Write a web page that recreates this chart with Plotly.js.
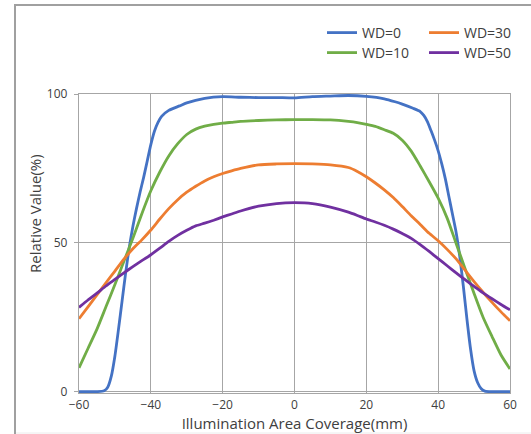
<!DOCTYPE html>
<html>
<head>
<meta charset="utf-8">
<script src="https://cdn.plot.ly/plotly-3.0.1.min.js"></script>
<style>html,body{margin:0;padding:0;background:#fff;}#chart{width:531px;height:434px;}</style>
</head>
<body>
<div id="chart"></div>
<script>
// Blue series (WD=0) has its own, denser x sampling at the steep edges
const xWD0 = [-60,-55,-53,-52,-51,-50,-49,-48,-47,-46,-45,-44,-43,-42,-41,-40,-39,-38,-37,-35,-32,-30,-25,-20,-15,-10,-5,0,5,10,15,20,25,28,30,33,35,36,37,38,39,40,41,42,43,44,45,46,47,48,49,50,51,52,53,55,60];
const yWD0 = [0,0,0.3,1.5,5.2,12,21,30.5,40,48.5,55.5,61.5,67,72,77.5,83,87.5,90.5,92.5,94.5,96,97,98.5,99.1,98.9,98.8,98.8,98.7,99.1,99.3,99.5,99.2,98.4,97.4,96.6,95.2,94.1,92.8,90.7,87.7,84.5,80.9,76.5,71.5,65.5,59.5,53.5,45.5,35.5,24.5,14.5,7,3,1,0.2,0,0];

const xCommon = [-60,-57.5,-55,-52.5,-50,-47.5,-45,-42.5,-40,-37.5,-35,-32.5,-30,-27.5,-25,-22.5,-20,-17.5,-15,-10,-5,0,5,10,15,17.5,20,22.5,25,27.5,30,32.5,35,37.5,40,42.5,45,47.5,50,52.5,55,57.5,60];
const yWD10 = [8,14.5,21,28.5,36,43.8,51.5,59.8,67.5,73.8,79.2,83.3,86.4,88.2,89.2,89.8,90.2,90.5,90.8,91.1,91.3,91.4,91.4,91.3,90.8,90.4,89.8,89.1,88,86.8,84.5,80.8,75.8,70.5,65,58.3,49.8,41.3,33,25,18.5,12.3,7.6];
const yWD30 = [24.5,28.5,32.5,36.6,40.5,44.5,48,51,54.3,58,61.5,64.5,67,69,70.8,72.2,73.3,74.2,75,76.2,76.5,76.6,76.5,76.2,75.3,74,72.2,70.1,67.8,65.2,62.2,59.1,56.2,53.2,50.7,47.8,44.6,40.8,37,33.4,30,26.8,23.8];
const yWD50 = [28.3,30.8,33.1,35.5,37.7,39.9,42,44,46,48.2,50.5,52.5,54.2,55.7,56.6,57.6,58.7,59.7,60.7,62.3,63.2,63.5,63.2,62,60.3,59.2,58,57,55.9,54.6,53.1,51.5,49.4,47.1,44.7,42.3,39.9,37.6,35.4,33.2,31.2,29.3,27.5];

const seriesNames = ['WD=0','WD=10','WD=30','WD=50'];
const seriesColors = ['#4472C4','#70AD47','#ED7D31','#7030A0'];
const xTickVals = [-60,-40,-20,0,20,40,60];
const yTickVals = [0,50,100];
const xTitle = 'Illumination Area Coverage(mm)';
const yTitle = 'Relative Value(%)';

const W = 531, H = 434;
const mL = 79, mR = 21, mT = 94, mB = 41;
const pw = W - mL - mR, ph = H - mT - mB;
const px2x = p => (p - mL) / pw;
const py2y = p => (H - mB - p) / ph;

function tr(i, x, y, legend) {
  return {
    type: 'scatter', mode: 'lines', name: seriesNames[i], x: x, y: y,
    line: {color: seriesColors[i], width: 2.8, shape: 'spline', smoothing: 0.6},
    legend: legend, hoverinfo: 'x+y+name'
  };
}
const data = [
  tr(0, xWD0, yWD0, 'legend'),
  tr(1, xCommon, yWD10, 'legend2'),
  tr(2, xCommon, yWD30, 'legend'),
  tr(3, xCommon, yWD50, 'legend2')
];

const fontFam = '"Open Sans", "Noto Sans", sans-serif';
const txtColor = '#404040';
const gridC = '#a6a6a6';
const legCommon = {
  orientation: 'h', xref: 'container', yref: 'container',
  xanchor: 'left', yanchor: 'middle',
  font: {family: fontFam, size: 14, color: txtColor},
  bgcolor: 'rgba(0,0,0,0)', borderwidth: 0,
  entrywidth: 57, entrywidthmode: 'pixels', traceorder: 'normal'
};

const layout = {
  width: W, height: H,
  margin: {l: mL, r: mR, t: mT, b: mB, pad: 0},
  paper_bgcolor: '#ffffff', plot_bgcolor: '#ffffff',
  font: {family: fontFam, color: txtColor},
  showlegend: true,
  legend: Object.assign({}, legCommon, {x: 322 / W, y: 1 - 33 / H}),
  legend2: Object.assign({}, legCommon, {x: 322 / W, y: 1 - 53 / H}),
  xaxis: {
    range: [-60, 60], tickvals: xTickVals, ticks: '',
    showgrid: true, gridcolor: gridC, gridwidth: 1.2,
    showline: true, linecolor: gridC, linewidth: 1.2, mirror: true,
    zeroline: false,
    tickfont: {family: fontFam, size: 12, color: txtColor},
    title: {text: xTitle, font: {family: fontFam, size: 15, color: txtColor}, standoff: 7},
    automargin: false, fixedrange: true
  },
  yaxis: {
    range: [-0.45, 100], tickvals: yTickVals, ticks: 'outside', ticklen: 4, tickcolor: gridC,
    ticklabelstandoff: 4,
    showgrid: true, gridcolor: gridC, gridwidth: 1.2,
    showline: true, linecolor: gridC, linewidth: 1.2, mirror: true,
    zeroline: false,
    tickfont: {family: fontFam, size: 12, color: txtColor},
    automargin: false, fixedrange: true
  },
  annotations: [{
    text: yTitle, textangle: -90, xref: 'paper', yref: 'paper',
    x: px2x(35), y: py2y(214), xanchor: 'center', yanchor: 'middle',
    showarrow: false, font: {family: fontFam, size: 15, color: txtColor}
  }],
  shapes: [
    {type: 'line', xref: 'paper', yref: 'paper', x0: px2x(15), x1: px2x(15), y0: py2y(4), y1: py2y(436), line: {color: '#a0a0a0', width: 2}},
    {type: 'line', xref: 'paper', yref: 'paper', x0: px2x(14), x1: px2x(535), y0: py2y(5), y1: py2y(5), line: {color: '#a0a0a0', width: 2}},
    {type: 'line', xref: 'paper', yref: 'paper', x0: px2x(16), x1: px2x(535), y0: py2y(433), y1: py2y(433), line: {color: '#ececec', width: 1}}
  ]
};

Plotly.newPlot('chart', data, layout, {staticPlot: true, displayModeBar: false});
</script>
</body>
</html>
